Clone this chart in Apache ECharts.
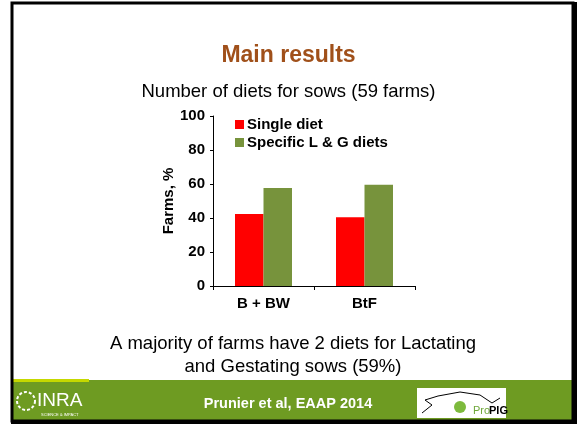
<!DOCTYPE html>
<html>
<head>
<meta charset="utf-8">
<script src="https://cdn.jsdelivr.net/npm/echarts@6/dist/echarts.min.js"></script>
<style>
  html, body { margin: 0; padding: 0; background: #fff; }
  #chart { width: 577px; height: 424px; }
</style>
</head>
<body>
<div id="chart"></div>
<script>
const categories = ['B + BW', 'BtF']
const singleDiet = [42.4, 40.4]
const specificDiets = [57.6, 59.6]
const yTicks = { min: 0, max: 100, interval: 20 }

const font = 'Liberation Sans, Arial, sans-serif'
const chart = echarts.init(document.getElementById('chart'))

chart.setOption({
  backgroundColor: '#fff',
  animation: false,
  title: [
    {
      text: 'Main results',
      left: 'center',
      top: 39,
      textStyle: { fontFamily: font, fontSize: 23, fontWeight: 'bold', color: '#A0501A' }
    },
    {
      text: 'Number of diets for sows (59 farms)',
      left: 'center',
      top: 77,
      textStyle: { fontFamily: font, fontSize: 18.5, fontWeight: 'normal', color: '#000' }
    }
  ],
  legend: {
    orient: 'vertical',
    left: 230,
    top: 112,
    icon: 'rect',
    itemWidth: 9,
    itemHeight: 9,
    itemGap: 3,
    textStyle: { fontFamily: font, fontSize: 15, fontWeight: 'bold', color: '#000', padding: [0, 0, 0, -2] },
    data: ['Single diet', 'Specific L & G diets']
  },
  grid: { left: 213, right: 162, top: 116, bottom: 138 },
  xAxis: {
    type: 'category',
    data: categories,
    axisLine: { lineStyle: { color: '#000', width: 1 } },
    axisTick: { show: true, length: 4, lineStyle: { color: '#000' } },
    axisLabel: { fontFamily: font, fontSize: 15, fontWeight: 'bold', color: '#000', margin: 10 }
  },
  yAxis: {
    type: 'value',
    min: yTicks.min,
    max: yTicks.max,
    interval: yTicks.interval,
    name: 'Farms, %',
    nameLocation: 'middle',
    nameGap: 35,
    nameTextStyle: { fontFamily: font, fontSize: 15, fontWeight: 'bold', color: '#000' },
    splitLine: { show: false },
    axisLine: { show: true, lineStyle: { color: '#000', width: 1 } },
    axisTick: { show: true, length: 3, lineStyle: { color: '#000' } },
    axisLabel: { fontFamily: font, fontSize: 15, fontWeight: 'bold', color: '#000', margin: 8 }
  },
  series: [
    {
      name: 'Single diet',
      type: 'bar',
      data: singleDiet,
      barWidth: 28.5,
      barGap: '0%',
      itemStyle: { color: '#FF0000' }
    },
    {
      name: 'Specific L & G diets',
      type: 'bar',
      data: specificDiets,
      barWidth: 28.5,
      itemStyle: { color: '#77933C' }
    }
  ],
  graphic: [
    // slide frame
    { type: 'rect', shape: { x: 12, y: 3, width: 561, height: 418 }, style: { fill: 'none', stroke: '#000', lineWidth: 3 }, z: 100 },
    { type: 'rect', shape: { x: 572, y: 2, width: 5, height: 422 }, style: { fill: '#000' }, z: 100 },
    { type: 'rect', shape: { x: 11, y: 420, width: 566, height: 4 }, style: { fill: '#000' }, z: 100 },
    // conclusion text
    {
      type: 'text', x: 293, y: 332,
      style: {
        text: 'A majority of farms have 2 diets for Lactating\nand Gestating sows (59%)',
        font: '18.5px ' + font, fill: '#000', align: 'center', lineHeight: 23
      }
    },
    // footer band
    { type: 'rect', shape: { x: 13, y: 380, width: 560, height: 40 }, style: { fill: '#6E9B22' } },
    { type: 'rect', shape: { x: 13, y: 379, width: 76, height: 3 }, style: { fill: '#C5D800' } },
    {
      type: 'text', x: 288, y: 396,
      style: { text: 'Prunier et al, EAAP 2014', font: 'bold 14.5px ' + font, fill: '#fff', align: 'center' }
    },
    // INRA logo
    {
      type: 'text', left: 37, top: 391,
      style: { text: 'INRA', font: '19px ' + font, fill: '#fff' }
    },
    { type: 'circle', shape: { cx: 26, cy: 401, r: 9 }, style: { fill: 'none', stroke: '#fff', lineWidth: 2, lineDash: [3, 2] } },
    {
      type: 'text', left: 41, top: 413,
      style: { text: 'SCIENCE & IMPACT', font: '4px ' + font, fill: '#fff' }
    },
    // ProPIG logo
    { type: 'rect', shape: { x: 417, y: 388, width: 89, height: 30 }, style: { fill: '#fff' } },
    {
      type: 'polyline',
      shape: { points: [[422, 413], [432, 405], [425, 400], [438, 396], [460, 392], [480, 395], [492, 403], [500, 398]] },
      style: { stroke: '#000', lineWidth: 1, fill: 'none' }
    },
    { type: 'circle', shape: { cx: 460, cy: 407, r: 6 }, style: { fill: '#7DBA3C' } },
    {
      type: 'text', left: 473, top: 405,
      style: { text: 'Pro', font: '11px ' + font, fill: '#6FA83A' }
    },
    {
      type: 'text', left: 489, top: 405,
      style: { text: 'PIG', font: 'bold 11px ' + font, fill: '#000' }
    }
  ]
})
</script>
</body>
</html>
